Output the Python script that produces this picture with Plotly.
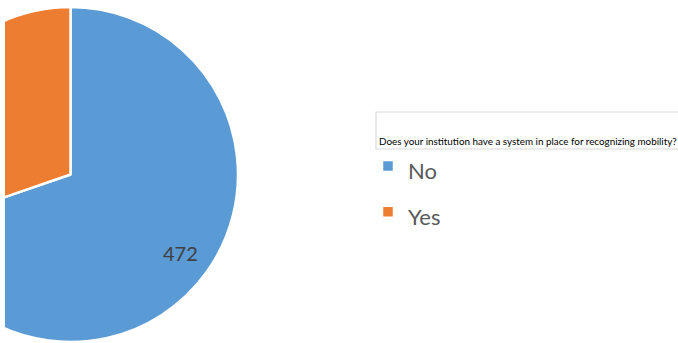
import math
import plotly.graph_objects as go

# Survey answers
answers = ["No", "Yes"]
counts = [472, 205]
colors = ["#5B9BD5", "#ED7D31"]
question = "Does your institution have a system in place for recognizing mobility?"

# Canvas is wider than the page and slid left so the pie is cropped at the edge
VIEW_W, VIEW_H = 678, 343
SHIFT = 100
W = VIEW_W + SHIFT


def px(x):
    """page x (px) -> paper fraction"""
    return (x + SHIFT) / W


def py(y):
    """page y (px, from top) -> paper fraction"""
    return 1 - y / VIEW_H


FONT = "Lato, 'Open Sans', sans-serif"

# pie geometry in page pixels
CX, CY, R = 70.5, 174.5, 167.5

fig = go.Figure(
    go.Pie(
        labels=[f"<span style='font-size:22px'>{a}</span>" for a in answers],
        values=counts,
        sort=False,
        direction="clockwise",
        rotation=0,
        marker=dict(colors=colors, line=dict(color="white", width=2.5)),
        textinfo="none",
        domain=dict(x=[px(CX - R), px(CX + R)], y=[py(CY + R), py(CY - R)]),
        hoverinfo="label+value",
    )
)

# value label for the "No" slice, placed along the slice's middle direction
total = sum(counts)
mid = 2 * math.pi * (counts[0] / 2) / total
lx = CX + 0.81 * R * math.sin(mid)
ly = CY + 0.81 * R * math.cos(mid) * -1

fig.update_layout(
    width=W,
    height=VIEW_H,
    margin=dict(l=0, r=0, t=0, b=0),
    paper_bgcolor="white",
    plot_bgcolor="white",
    font=dict(family=FONT, color="#595959"),
    showlegend=True,
    legend=dict(
        x=px(368),
        y=py(138),
        xanchor="left",
        yanchor="top",
        font=dict(family=FONT, size=33, color="#595959"),
        bgcolor="rgba(0,0,0,0)",
    ),
    shapes=[
        # strip that crops the pie at the left edge
        dict(type="rect", xref="paper", yref="paper",
             x0=0, x1=px(5), y0=0, y1=1,
             fillcolor="white", line=dict(width=0), layer="above"),
        # question box
        dict(type="rect", xref="paper", yref="paper",
             x0=px(376), x1=px(720), y0=py(149), y1=py(112),
             fillcolor="rgba(0,0,0,0)", line=dict(color="#D9D9D9", width=1.2),
             layer="above"),
    ],
    annotations=[
        dict(text=question, xref="paper", yref="paper",
             x=px(377), y=py(140.5), xanchor="left", yanchor="middle",
             showarrow=False,
             font=dict(family=FONT, size=9.85, color="#000000")),
        dict(text=str(counts[0]), xref="paper", yref="paper",
             x=px(lx), y=py(ly), xanchor="center", yanchor="middle",
             showarrow=False,
             font=dict(family=FONT, size=20, color="#404040")),
    ],
)

post = """
document.body.style.margin = '0';
document.body.style.overflow = 'hidden';
var gd = document.getElementById('{plot_id}');
gd.style.marginLeft = '-%dpx';
""" % SHIFT

fig.write_html("out.html", post_script=post)
